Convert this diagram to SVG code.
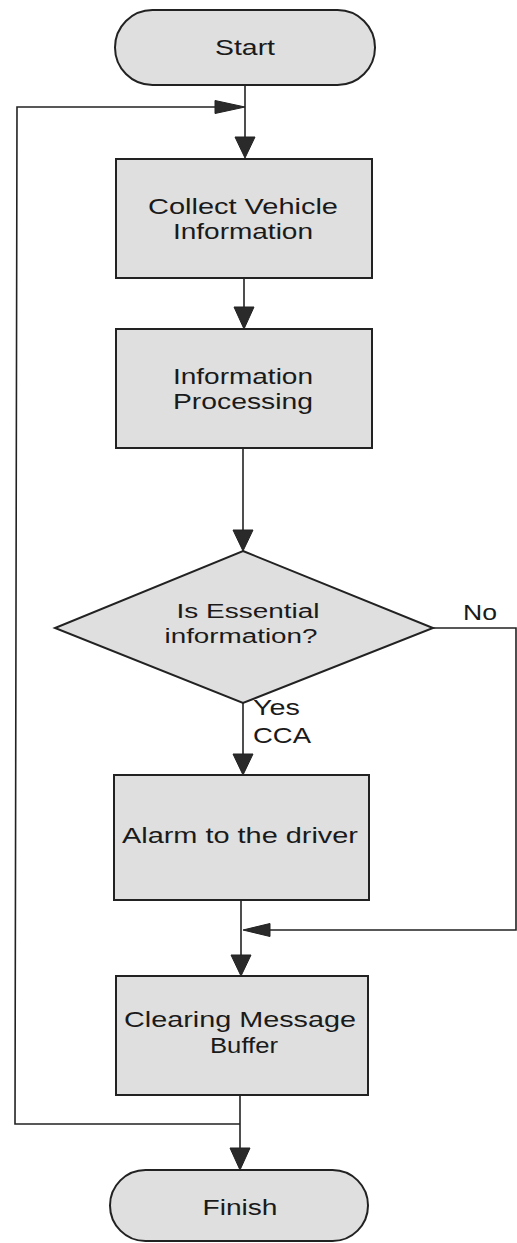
<svg xmlns="http://www.w3.org/2000/svg" width="517" height="1243" viewBox="0 0 517 1243">
<style>
.shape{fill:#dfdfdf;stroke:#222;stroke-width:2}
.t{font-family:"Liberation Sans",Arial,sans-serif;font-size:22px;fill:#1a1a1a;text-anchor:middle}
.td{font-family:"Liberation Sans",Arial,sans-serif;font-size:20px;fill:#1a1a1a;text-anchor:middle}
.lbl{font-family:"Liberation Sans",Arial,sans-serif;font-size:22px;fill:#1a1a1a}
.ln{fill:none;stroke:#222;stroke-width:1.6}
.ah{fill:#2a2a2a;stroke:#222;stroke-width:1}
</style>
<rect width="517" height="1243" fill="#fff"/>
<g id="connectors">
<line class="ln" x1="245" y1="85" x2="245" y2="140"/>
<polygon class="ah" points="235,137 255,137 245,158"/>
<polyline class="ln" points="240,1124 15,1124 17,107 218,107"/>
<polygon class="ah" points="215,100.5 245,107 215,113.5"/>
<line class="ln" x1="244" y1="278" x2="244" y2="310"/>
<polygon class="ah" points="234,307 254,307 244,329"/>
<line class="ln" x1="243" y1="448" x2="243" y2="533"/>
<polygon class="ah" points="233,530 253,530 243,551"/>
<polyline class="ln" points="433,628 516,628 516,930 268,930"/>
<line class="ln" x1="243" y1="703" x2="243" y2="757"/>
<polygon class="ah" points="233,754 253,754 243,775"/>
<line class="ln" x1="241" y1="900" x2="241" y2="958"/>
<polygon class="ah" points="270,923.5 243,930 270,936.5"/>
<polygon class="ah" points="231,955 251,955 241,976"/>
<line class="ln" x1="240" y1="1095" x2="240" y2="1150"/>
<polygon class="ah" points="230,1148 250,1148 240,1170"/>
<text class="lbl" x="463" y="620" textLength="34" lengthAdjust="spacingAndGlyphs">No</text>
<text class="lbl" x="253" y="715" textLength="47" lengthAdjust="spacingAndGlyphs">Yes</text>
<text class="lbl" x="253" y="743" textLength="58" lengthAdjust="spacingAndGlyphs">CCA</text>
</g>
<g id="start">
<rect class="shape" x="115" y="10" width="260" height="75" rx="37.5"/>
<text class="t" x="245" y="55" textLength="60" lengthAdjust="spacingAndGlyphs">Start</text>
</g>
<g id="collect">
<rect class="shape" x="116" y="159" width="256" height="119"/>
<text class="t" x="243" y="214" textLength="190" lengthAdjust="spacingAndGlyphs">Collect Vehicle</text>
<text class="t" x="243" y="239" textLength="140" lengthAdjust="spacingAndGlyphs">Information</text>
</g>
<g id="processing">
<rect class="shape" x="116" y="329" width="256" height="119"/>
<text class="t" x="243" y="384" textLength="140" lengthAdjust="spacingAndGlyphs">Information</text>
<text class="t" x="243" y="409" textLength="140" lengthAdjust="spacingAndGlyphs">Processing</text>
</g>
<g id="decision">
<polygon class="shape" points="243,551 433,628 243,703 55,628"/>
<text class="td" x="248" y="618" textLength="143" lengthAdjust="spacingAndGlyphs">Is Essential</text>
<text class="td" x="241" y="643" textLength="153" lengthAdjust="spacingAndGlyphs">information?</text>
</g>
<g id="alarm">
<rect class="shape" x="114" y="775" width="255" height="125"/>
<text class="t" x="240" y="843" textLength="236" lengthAdjust="spacingAndGlyphs">Alarm to the driver</text>
</g>
<g id="clearing">
<rect class="shape" x="116" y="976" width="252" height="119"/>
<text class="t" x="240" y="1027" textLength="232" lengthAdjust="spacingAndGlyphs">Clearing Message</text>
<text class="t" x="244" y="1053" textLength="68" lengthAdjust="spacingAndGlyphs">Buffer</text>
</g>
<g id="finish">
<rect class="shape" x="110" y="1170" width="258" height="71" rx="35.5"/>
<text class="t" x="240" y="1215" textLength="75" lengthAdjust="spacingAndGlyphs">Finish</text>
</g>
</svg>
